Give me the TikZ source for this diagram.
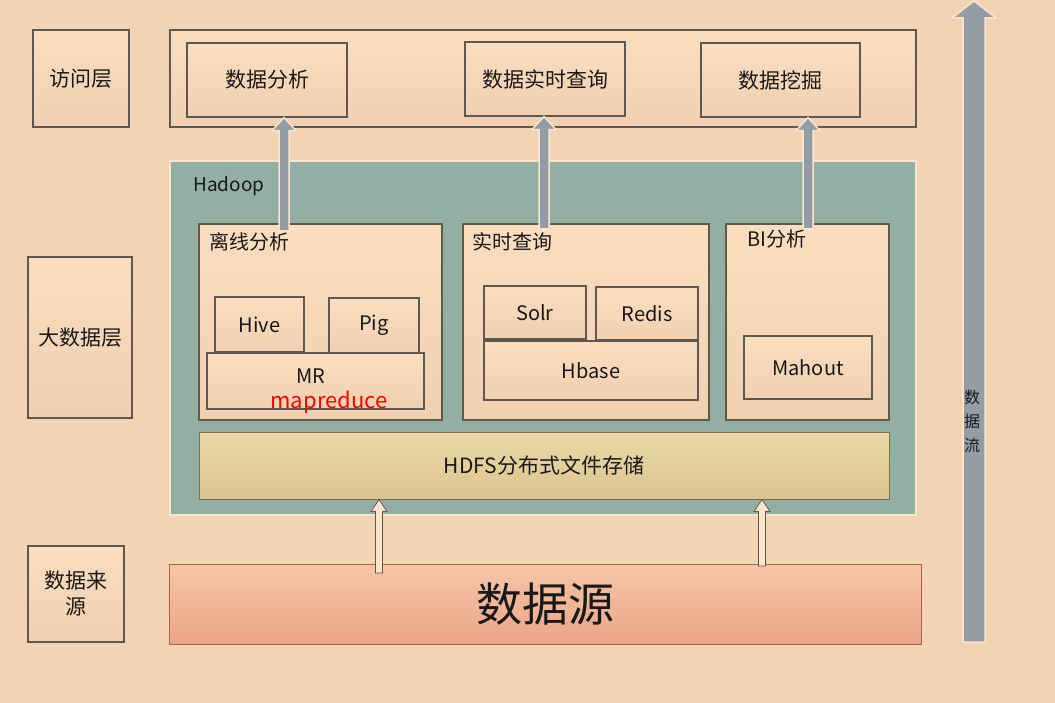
\documentclass[tikz,border=0pt]{standalone}
\usepackage{fontspec}
\setmainfont{Noto Sans CJK SC}
\usetikzlibrary{calc}
\definecolor{bgc}{RGB}{242,212,181}
\definecolor{boxtop}{RGB}{251,221,192}
\definecolor{boxbot}{RGB}{240,208,176}
\definecolor{boxline}{RGB}{95,88,80}
\definecolor{teal}{RGB}{147,175,163}
\definecolor{glow}{RGB}{250,228,205}
\definecolor{arrgray}{RGB}{147,157,166}
\definecolor{hollowfill}{RGB}{251,228,205}
\definecolor{hollowline}{RGB}{100,85,70}
\definecolor{hdfstop}{RGB}{236,216,168}
\definecolor{hdfsbot}{RGB}{217,195,144}
\definecolor{hdfsline}{RGB}{125,112,69}
\definecolor{srctop}{RGB}{246,197,166}
\definecolor{srcbot}{RGB}{234,165,137}
\definecolor{srcline}{RGB}{176,96,74}
\definecolor{txt}{RGB}{25,25,25}
\newcommand\fs[1]{\fontsize{#1}{#1}\selectfont}
% vertical block arrow: #1 start coord, #2 tip coord, #3 shaft half width, #4 head half width, #5 head length, #6 style
\newcommand\upblockarrow[6]{%
  \path[#6] let \p1=(#1), \p2=(#2) in
    (\x1-#3,\y1) -- (\x1-#3,\y2-#5) -- (\x1-#4,\y2-#5) -- (\x1,\y2) --
    (\x1+#4,\y2-#5) -- (\x1+#3,\y2-#5) -- (\x1+#3,\y1) -- cycle;}
\tikzset{
  box/.style={draw=boxline, line width=1.1pt, top color=boxtop, bottom color=boxbot,
    inner sep=0pt, text=txt, font=\fs{21}},
  latinbox/.style={box, font=\fs{20}},
  lbl/.style={anchor=west, inner sep=0pt, text=txt, font=\fs{20}},
  grayarr/.style={fill=arrgray, draw=glow, line width=1.5pt},
  hollowarr/.style={fill=hollowfill, draw=hollowline, line width=0.8pt},
}
\begin{document}
\begin{tikzpicture}[x=1pt,y=-1pt]
\fill[bgc] (0,0) rectangle (1055,703);
\useasboundingbox (0,0) rectangle (1055,703);

% left layer labels
\node[box, minimum width=96pt, minimum height=97pt] (l1) at (81,78.5) {访问层};
\node[box, minimum width=104pt, minimum height=161pt] (l2) at (80,337.5) {大数据层};
\node[box, minimum width=96pt, minimum height=96pt, align=center, font=\fontsize{21}{26}\selectfont] (l3) at (76,594) {数据来\\源};

% access layer
\node[box, minimum width=746pt, minimum height=97pt] (acc) at (543,78.5) {};
\node[box, minimum width=160pt, minimum height=74pt] (da) at (267,80) {数据分析};
\node[box, minimum width=160pt, minimum height=74pt] (dq) at (545,79) {数据实时查询};
\node[box, minimum width=159pt, minimum height=74pt] (dm) at (780.5,80) {数据挖掘};

% hadoop
\node[fill=teal, draw=glow, line width=2pt, minimum width=746pt, minimum height=354pt, inner sep=0pt] (hd) at (543,338) {};
\node[lbl, font=\fs{19}] (hdl) at (193,186) {Hadoop};

\node[box, minimum width=243pt, minimum height=196pt] (off) at (320.5,322) {};
\node[lbl] (offl) at (209,242) {离线分析};
\node[latinbox, minimum width=89pt, minimum height=55pt] (hive) at (259.5,324.5) {Hive};
\node[latinbox, minimum width=90pt, minimum height=55pt] (pig) at (374,325.5) {Pig};
\node[latinbox, minimum width=217pt, minimum height=56pt] (mr) at (315.5,381) {};
\node[inner sep=0pt, text=txt, font=\fs{20}] (mrt) at (311,376) {MR};
\node[inner sep=0pt, text=red, font=\fs{22}] (mrr) at (329,402) {mapreduce};

\node[box, minimum width=246pt, minimum height=196pt] (rt) at (586,322) {};
\node[lbl] (rtl) at (472,242) {实时查询};
\node[latinbox, minimum width=102pt, minimum height=53pt] (solr) at (535,312.5) {Solr};
\node[latinbox, minimum width=102pt, minimum height=53pt] (redis) at (647,313.5) {Redis};
\node[latinbox, minimum width=214pt, minimum height=59pt] (hbase) at (591,370.5) {Hbase};

\node[box, minimum width=163pt, minimum height=196pt] (bi) at (807.5,322) {};
\node[lbl] (bil) at (747,239) {BI分析};
\node[latinbox, minimum width=128pt, minimum height=63pt] (mahout) at (808,367.5) {Mahout};

\node[draw=hdfsline, line width=1pt, top color=hdfstop, bottom color=hdfsbot, minimum width=690pt, minimum height=67pt, inner sep=0pt, text=txt, font=\fs{21}] (hdfs) at (544,465.5) {HDFS分布式文件存储};

% data source
\node[draw=srcline, line width=1pt, top color=srctop, bottom color=srcbot, minimum width=752pt, minimum height=80pt, inner sep=0pt, text=txt, font=\fs{46}] (src) at (545,604) {数据源};

% gray arrows from hadoop boxes up to access boxes
\coordinate (a1) at (284,231);
\coordinate (a2) at (544,229);
\coordinate (a3) at (808,229);
\upblockarrow{a1}{a1 |- da.south}{5pt}{12pt}{13pt}{grayarr}
\upblockarrow{a2}{a2 |- dq.south}{5pt}{12pt}{13pt}{grayarr}
\upblockarrow{a3}{a3 |- dm.south}{5pt}{12pt}{13pt}{grayarr}

% hollow arrows from data source to hdfs
\coordinate (b1) at (379,573);
\coordinate (b2) at (762,566);
\upblockarrow{b1}{b1 |- hdfs.south}{3.5pt}{8pt}{12pt}{hollowarr}
\upblockarrow{b2}{b2 |- hdfs.south}{3.5pt}{8pt}{12pt}{hollowarr}

% big data flow arrow
\coordinate (c1) at (974,642);
\coordinate (c2) at (974,1);
\upblockarrow{c1}{c2}{11pt}{22pt}{17pt}{grayarr}
\node[inner sep=0pt, text=txt, align=center, font=\fontsize{16}{24}\selectfont] (flow) at (972,421) {数\\据\\流};
\end{tikzpicture}
\end{document}
